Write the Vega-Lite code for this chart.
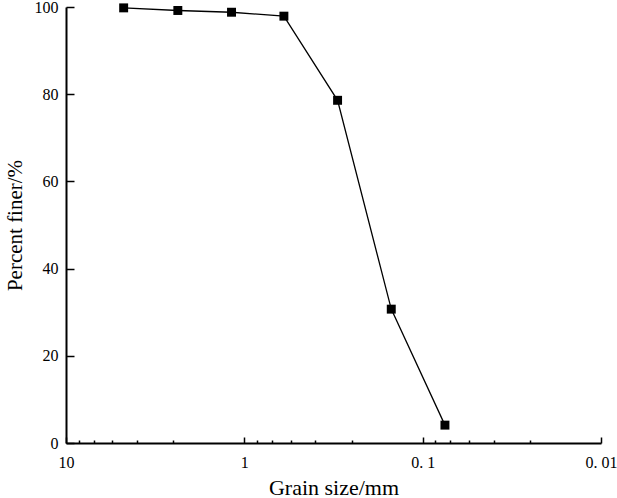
{
  "$schema": "https://vega.github.io/schema/vega-lite/v6.json",
  "width": 535,
  "height": 436,
  "autosize": {"type": "none"},
  "padding": {"left": 66, "top": 7, "right": 16, "bottom": 55},
  "background": "white",
  "data": {
    "values": [
      {"size": 4.75, "finer": 99.8},
      {"size": 2.36, "finer": 99.2},
      {"size": 1.18, "finer": 98.8},
      {"size": 0.6, "finer": 97.9},
      {"size": 0.3, "finer": 78.6},
      {"size": 0.15, "finer": 30.7},
      {"size": 0.075, "finer": 4.1}
    ]
  },
  "layer": [
    {
      "mark": {"type": "line", "color": "black", "strokeWidth": 1.3},
      "encoding": {
        "x": {
          "field": "size",
          "type": "quantitative",
          "scale": {"type": "log", "domain": [0.01, 10], "reverse": true, "nice": false},
          "axis": {
            "orient": "bottom",
            "values": [10, 1, 0.1, 0.01],
            "labelExpr": "datum.value >= 10 ? '10' : datum.value >= 1 ? '1' : datum.value >= 0.1 ? '0. 1' : '0. 01'",
            "tickSize": -6,
            "labelPadding": 17,
            "title": "Grain size/mm",
            "titlePadding": 7
          }
        },
        "y": {
          "field": "finer",
          "type": "quantitative",
          "scale": {"domain": [0, 100], "nice": false},
          "axis": {
            "values": [0, 20, 40, 60, 80, 100],
            "tickSize": -8,
            "labelPadding": 16,
            "title": "Percent finer/%",
            "titlePadding": 9,
            "titleFontSize": 21
          }
        }
      }
    },
    {
      "mark": {"type": "square", "color": "black", "size": 80, "opacity": 1, "filled": true},
      "encoding": {
        "x": {
          "field": "size",
          "type": "quantitative",
          "scale": {"type": "log", "domain": [0.01, 10], "reverse": true, "nice": false},
          "axis": {
            "orient": "bottom",
            "values": [8.5, 7, 5.5, 4, 2.5, 0.85, 0.7, 0.55, 0.4, 0.25, 0.085, 0.07, 0.055, 0.04, 0.025],
            "labels": false,
            "domain": false,
            "tickSize": -3,
            "title": null
          }
        },
        "y": {"field": "finer", "type": "quantitative"}
      }
    }
  ],
  "resolve": {"axis": {"x": "independent"}},
  "config": {
    "view": {"stroke": null},
    "axis": {
      "grid": false,
      "domainColor": "black",
      "domainWidth": 2,
      "tickColor": "black",
      "tickWidth": 1.5,
      "labelColor": "black",
      "labelFont": "Liberation Serif",
      "labelFontSize": 16,
      "titleFont": "Liberation Serif",
      "titleFontSize": 22,
      "titleFontWeight": "normal",
      "titleColor": "black",
      "labelFlush": false,
      "labelOverlap": false
    }
  }
}
